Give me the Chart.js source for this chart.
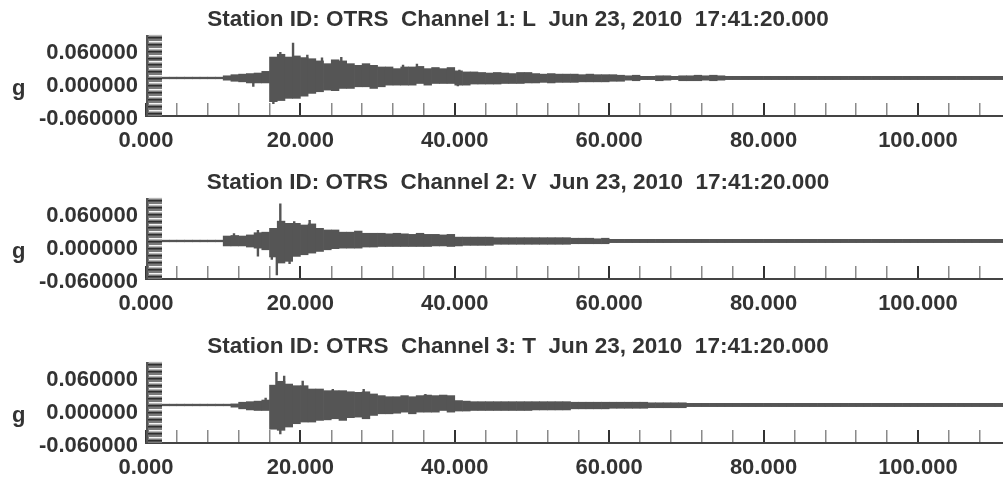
<!DOCTYPE html>
<html>
<head>
<meta charset="utf-8">
<script src="https://cdn.jsdelivr.net/npm/chart.js@4.4.1/dist/chart.umd.min.js"></script>
<style>
  html, body { margin:0; padding:0; background:#fff; }
  #wrap { position:relative; width:1003px; height:483px; overflow:hidden; background:#fff; }
  .panel { position:absolute; left:0; width:1036px; height:163px; }
  .g { position:absolute; left:12px; top:77px; font:bold 22px "Liberation Sans", Arial, sans-serif; line-height:21px; color:#333; }
</style>
</head>
<body>
<div id="wrap">
  <div class="panel" style="top:0px"><canvas id="c1" width="1036" height="163"></canvas><div class="g">g</div></div>
  <div class="panel" style="top:163px"><canvas id="c2" width="1036" height="163"></canvas><div class="g">g</div></div>
  <div class="panel" style="top:327px"><canvas id="c3" width="1036" height="163"></canvas><div class="g">g</div></div>
</div>
<script>
// ---- text ----
const titles = [
  "Station ID: OTRS  Channel 1: L  Jun 23, 2010  17:41:20.000",
  "Station ID: OTRS  Channel 2: V  Jun 23, 2010  17:41:20.000",
  "Station ID: OTRS  Channel 3: T  Jun 23, 2010  17:41:20.000"
];
const yTickValues = [-0.06, 0, 0.06];
const xLabelEvery = 20;   // seconds between labelled ticks
const xTickStep = 4;      // seconds between tick marks

// ---- time bins: 1-second bins, value is the bin centre (s) ----
const timeBins = Array.from({length:116}, (_, i) => i + 0.5);

// ---- Channel 1 (L): upper / lower envelope per second (g) ----
const ch1Upper = [
  0.0105,0.0105,0.0105,0.0105,0.0105,0.0105,0.0105,0.0105,0.0105,0.0105,
  0.013,0.015,0.016,0.017,0.018,0.021,0.047,0.052,0.047,0.049,
  0.046,0.044,0.040,0.035,0.042,0.040,0.035,0.032,0.035,0.032,
  0.029,0.029,0.026,0.029,0.029,0.030,0.026,0.028,0.026,0.028,
  0.022,0.020,0.020,0.019,0.018,0.019,0.018,0.017,0.019,0.019,
  0.017,0.016,0.017,0.016,0.016,0.016,0.015,0.016,0.015,0.015,
  0.015,0.014,0.013,0.014,0.012,0.012,0.013,0.013,0.012,0.013,
  0.013,0.014,0.013,0.014,0.013,0.012,0.012,0.012,0.012,0.012,
  0.012,0.012,0.012,0.012,0.012,0.012,0.012,0.012,0.012,0.012,
  0.012,0.012,0.012,0.012,0.012,0.012,0.012,0.012,0.012,0.012,
  0.012,0.012,0.012,0.012,0.012,0.012,0.012,0.012,0.012,0.012,
  0.012,0.012,0.012,0.012,0.012,0.012
];
const ch1Lower = [
  0.0075,0.0075,0.0075,0.0075,0.0075,0.0075,0.0075,0.0075,0.0075,0.0075,
  0.005,0.003,0.002,0.000,0.000,0.000,-0.034,-0.032,-0.028,-0.028,
  -0.024,-0.019,-0.016,-0.013,-0.014,-0.010,-0.010,-0.007,-0.007,-0.010,
  -0.007,-0.004,-0.004,-0.004,-0.004,-0.001,-0.004,-0.001,-0.001,-0.001,
  -0.004,-0.004,-0.002,-0.002,-0.002,-0.002,-0.001,-0.001,-0.001,0.000,
  0.000,0.001,0.000,0.001,0.001,0.001,0.002,0.002,0.002,0.002,
  0.003,0.003,0.005,0.004,0.006,0.006,0.004,0.005,0.006,0.004,
  0.004,0.004,0.005,0.004,0.005,0.006,0.006,0.006,0.006,0.006,
  0.006,0.006,0.006,0.006,0.006,0.006,0.006,0.006,0.006,0.006,
  0.006,0.006,0.006,0.006,0.006,0.006,0.006,0.006,0.006,0.006,
  0.006,0.006,0.006,0.006,0.006,0.006,0.006,0.006,0.006,0.006,
  0.006,0.006,0.006,0.006,0.006,0.006
];
// isolated spikes: [time s, low g, high g]
const ch1Spikes = [[19.05, 0.000, 0.073], [17.4, -0.020, 0.056], [20.9, 0.0, 0.051], [22.8, 0.0, 0.046],
                   [25.3, 0.0, 0.047], [33.3, 0.0, 0.033], [35.1, 0.0, 0.035], [13.9, -0.007, 0.01],
                   [16.5, -0.038, 0.0], [40.6, 0.0, 0.024], [40.4, -0.006, 0.0]];

// ---- Channel 2 (V) ----
const ch2Upper = [
  0.0105,0.0105,0.0105,0.0105,0.0105,0.0105,0.0105,0.0105,0.0105,0.0105,
  0.018,0.019,0.018,0.020,0.024,0.025,0.032,0.045,0.041,0.041,
  0.038,0.040,0.032,0.029,0.029,0.025,0.025,0.027,0.023,0.023,
  0.023,0.022,0.023,0.022,0.021,0.023,0.021,0.021,0.020,0.021,
  0.016,0.016,0.016,0.016,0.016,0.015,0.015,0.015,0.015,0.015,
  0.015,0.015,0.015,0.015,0.015,0.014,0.014,0.014,0.013,0.014,
  0.012,0.012,0.012,0.012,0.012,0.012,0.012,0.012,0.012,0.012,
  0.012,0.012,0.012,0.012,0.012,0.012,0.012,0.012,0.012,0.012,
  0.012,0.012,0.012,0.012,0.012,0.012,0.012,0.012,0.012,0.012,
  0.012,0.012,0.012,0.012,0.012,0.012,0.012,0.012,0.012,0.012,
  0.012,0.012,0.012,0.012,0.012,0.012,0.012,0.012,0.012,0.012,
  0.012,0.012,0.012,0.012,0.012,0.012
];
const ch2Lower = [
  0.0075,0.0075,0.0075,0.0075,0.0075,0.0075,0.0075,0.0075,0.0075,0.0075,
  0.000,0.000,0.000,-0.002,-0.004,-0.007,-0.020,-0.031,-0.028,-0.019,
  -0.016,-0.013,-0.010,-0.007,-0.005,-0.004,-0.004,-0.004,-0.002,-0.002,
  -0.001,-0.001,-0.001,-0.001,-0.001,-0.001,-0.001,0.000,0.000,-0.001,
  0.000,0.001,0.001,0.001,0.001,0.003,0.003,0.003,0.003,0.003,
  0.003,0.003,0.003,0.003,0.003,0.004,0.004,0.004,0.004,0.004,
  0.006,0.006,0.006,0.006,0.006,0.006,0.006,0.006,0.006,0.006,
  0.006,0.006,0.006,0.006,0.006,0.006,0.006,0.006,0.006,0.006,
  0.006,0.006,0.006,0.006,0.006,0.006,0.006,0.006,0.006,0.006,
  0.006,0.006,0.006,0.006,0.006,0.006,0.006,0.006,0.006,0.006,
  0.006,0.006,0.006,0.006,0.006,0.006,0.006,0.006,0.006,0.006,
  0.006,0.006,0.006,0.006,0.006,0.006
];
const ch2Spikes = [[17.4, 0.000, 0.077], [16.95, -0.053, 0.000], [14.5, -0.019, 0.029], [11.4, 0.005, 0.023],
                   [16.3, -0.025, 0.0], [21.2, 0.0, 0.047], [18.6, -0.033, 0.0], [19.2, 0.0, 0.045]];

// ---- Channel 3 (T) ----
const ch3Upper = [
  0.0105,0.0105,0.0105,0.0105,0.0105,0.0105,0.0105,0.0105,0.0105,0.0105,
  0.0105,0.011,0.014,0.015,0.016,0.018,0.045,0.052,0.047,0.044,
  0.044,0.038,0.038,0.035,0.035,0.035,0.033,0.032,0.033,0.029,
  0.026,0.024,0.024,0.026,0.024,0.026,0.027,0.026,0.027,0.026,
  0.017,0.016,0.015,0.015,0.015,0.015,0.015,0.015,0.015,0.015,
  0.015,0.015,0.015,0.015,0.015,0.014,0.014,0.014,0.014,0.014,
  0.014,0.014,0.014,0.014,0.014,0.013,0.013,0.013,0.013,0.013,
  0.012,0.012,0.012,0.012,0.012,0.012,0.012,0.012,0.012,0.012,
  0.012,0.012,0.012,0.012,0.012,0.012,0.012,0.012,0.012,0.012,
  0.012,0.012,0.012,0.012,0.012,0.012,0.012,0.012,0.012,0.012,
  0.012,0.012,0.012,0.012,0.012,0.012,0.012,0.012,0.012,0.012,
  0.012,0.012,0.012,0.012,0.012,0.012
];
const ch3Lower = [
  0.0075,0.0075,0.0075,0.0075,0.0075,0.0075,0.0075,0.0075,0.0075,0.0075,
  0.0075,0.005,0.002,0.000,-0.001,-0.001,-0.035,-0.037,-0.031,-0.025,
  -0.022,-0.022,-0.019,-0.018,-0.016,-0.019,-0.014,-0.013,-0.016,-0.010,
  -0.007,-0.007,-0.006,-0.004,-0.007,-0.004,-0.004,-0.004,-0.001,-0.004,
  -0.002,-0.002,-0.001,-0.001,-0.001,-0.001,-0.001,-0.001,-0.001,-0.001,
  0.000,0.000,0.000,0.000,0.000,0.002,0.002,0.002,0.002,0.002,
  0.003,0.003,0.003,0.003,0.003,0.004,0.004,0.004,0.004,0.004,
  0.006,0.006,0.006,0.006,0.006,0.006,0.006,0.006,0.006,0.006,
  0.006,0.006,0.006,0.006,0.006,0.006,0.006,0.006,0.006,0.006,
  0.006,0.006,0.006,0.006,0.006,0.006,0.006,0.006,0.006,0.006,
  0.006,0.006,0.006,0.006,0.006,0.006,0.006,0.006,0.006,0.006,
  0.006,0.006,0.006,0.006,0.006,0.006
];
const ch3Spikes = [[16.9, 0.000, 0.069], [17.9, 0.000, 0.062], [17.4, -0.044, 0.000], [15.5, 0.005, 0.022],
                   [20.3, 0.0, 0.053], [24.2, 0.0, 0.038], [28.2, 0.0, 0.038], [36.2, 0.0, 0.029]];

// ---- styling ----
const FONT = '"Liberation Sans", Arial, sans-serif';
const TEXT = '#333';
const TRACE = '#555';

// gray y-axis strip drawn from the y scale
const grayStrip = {
  id: 'grayStrip',
  afterDraw(chart) {
    const {ctx, chartArea: a, scales: {y}} = chart;
    ctx.save();
    ctx.fillStyle = '#7a7a7a';
    ctx.fillRect(a.left, a.top, 16, a.bottom - a.top);
    for (let v = y.min + 0.006; v < y.max; v += 0.0125) {
      const p = Math.round(y.getPixelForValue(v));
      ctx.fillStyle = '#f4f4f4';
      ctx.fillRect(a.left + 3, p - 3, 13, 1.5);
      ctx.fillStyle = '#2e2e2e';
      ctx.fillRect(a.left + 1, p, 15, 1.5);
    }
    ctx.fillStyle = '#555';
    ctx.fillRect(a.left, a.top, 2, a.bottom - a.top);
    ctx.restore();
  }
};

function makeChart(id, title, upper, lower, spikes) {
  const bars = timeBins.map((t, i) => ({x: t, y: [lower[i], upper[i]]}));
  const spk = [];
  spikes.forEach(s => { spk.push({x: s[0], y: s[1]}, {x: s[0], y: s[2]}, {x: s[0], y: null}); });
  new Chart(document.getElementById(id), {
    type: 'bar',
    data: {
      datasets: [
        {type: 'bar', data: bars, backgroundColor: TRACE, borderWidth: 0,
         barPercentage: 1, categoryPercentage: 1, grouped: false},
        {type: 'line', data: spk, borderColor: TRACE, borderWidth: 2.4,
         pointRadius: 0, spanGaps: false, fill: false}
      ]
    },
    options: {
      responsive: false,
      animation: false,
      devicePixelRatio: 1,
      layout: {padding: 0},
      plugins: {
        legend: {display: false},
        tooltip: {enabled: false},
        title: {display: true, text: title, color: TEXT,
                font: {family: FONT, size: 22.5, weight: 'bold', lineHeight: 1.2},
                padding: {top: 6, bottom: 2}}
      },
      scales: {
        x: {
          type: 'linear', min: 0, max: 115.3, offset: false,
          grid: {display: true, drawOnChartArea: false, drawTicks: true, tickLength: -13, offset: false,
                 color: c => (c.tick && c.tick.value % xLabelEvery === 0) ? '#333' : '#8a8a8a',
                 lineWidth: c => (c.tick && c.tick.value % xLabelEvery === 0) ? 2 : 1.5},
          border: {display: true, color: '#444', width: 2},
          ticks: {stepSize: xTickStep, autoSkip: false, maxRotation: 0, minRotation: 0, includeBounds: false,
                  color: TEXT, padding: 25, font: {family: FONT, size: 22, weight: 'bold'},
                  callback: v => (v % xLabelEvery === 0) ? Number(v).toFixed(3) : ''},
          afterFit: s => { s.height = 47; }
        },
        y: {
          min: -0.06, max: 0.087,
          afterBuildTicks: s => { s.ticks = yTickValues.map(v => ({value: v})); },
          grid: {display: false, drawTicks: false},
          border: {display: false},
          ticks: {color: TEXT, padding: 8, labelOffset: 3, font: {family: FONT, size: 22, weight: 'bold'},
                  callback: v => Number(v).toFixed(6)},
          afterFit: s => { s.width = 146; }
        }
      }
    },
    plugins: [grayStrip]
  });
}

makeChart('c1', titles[0], ch1Upper, ch1Lower, ch1Spikes);
makeChart('c2', titles[1], ch2Upper, ch2Lower, ch2Spikes);
makeChart('c3', titles[2], ch3Upper, ch3Lower, ch3Spikes);
</script>
</body>
</html>
